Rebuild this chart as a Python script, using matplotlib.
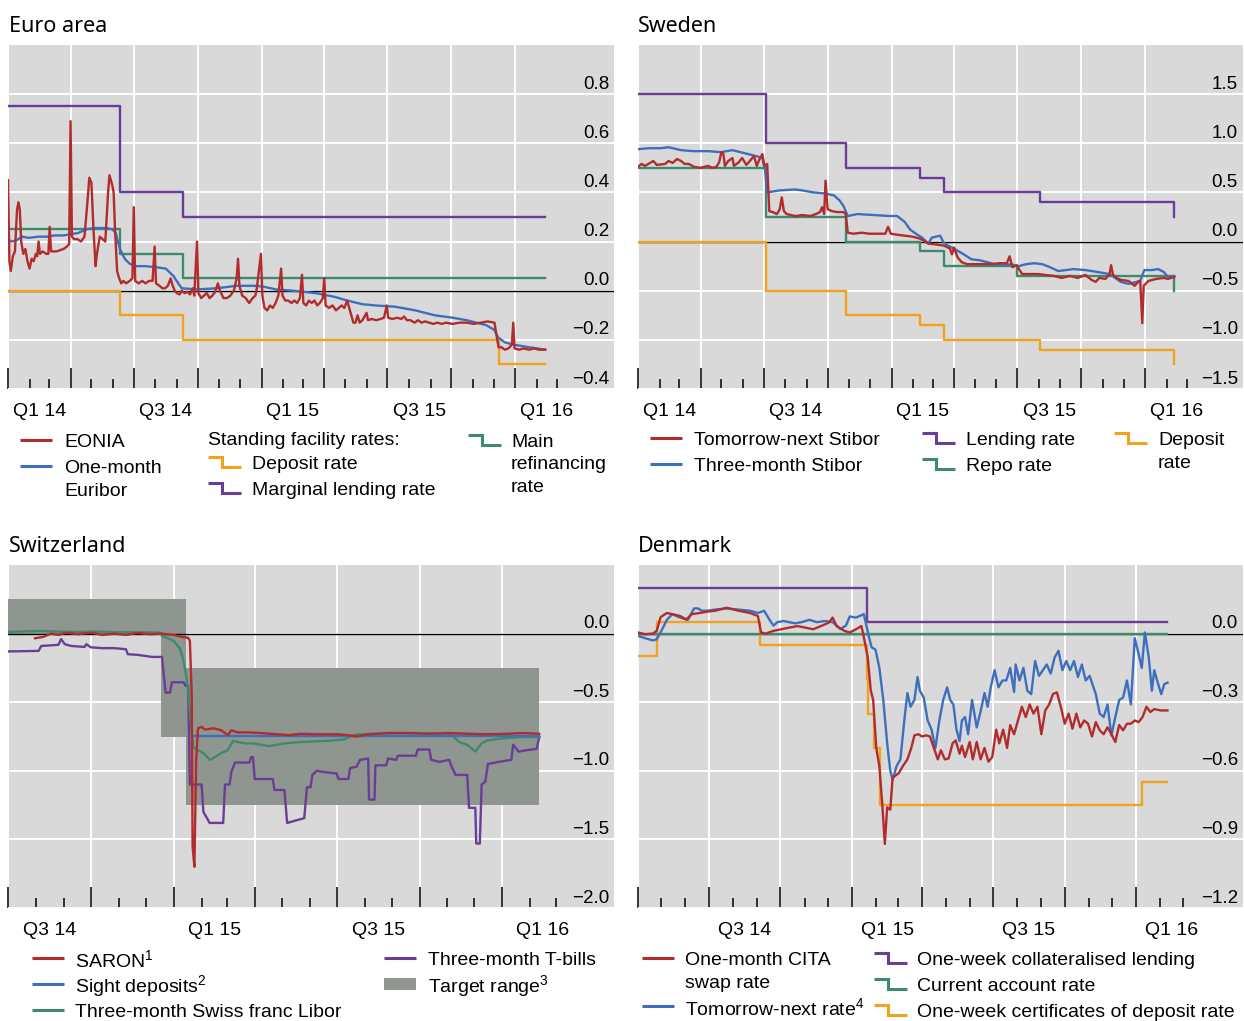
import numpy as np
import matplotlib
matplotlib.use("Agg")
import matplotlib.pyplot as plt
import matplotlib.transforms as mtrans

plt.rcParams['font.family'] = ['Liberation Sans', 'DejaVu Sans']
plt.rcParams['mathtext.fontset'] = 'custom'
plt.rcParams['mathtext.rm'] = 'Liberation Sans'
plt.rcParams['mathtext.it'] = 'Liberation Sans:italic'
plt.rcParams['mathtext.bf'] = 'Liberation Sans:bold'

# ---------------- DATA (x = days since 2014-01-01) ----------------
BASE = np.datetime64('2014-01-01')

# Euro area
euro_step_days = [0, 161, 252, 707, 773]
euro_deposit = [0.00, -0.10, -0.20, -0.30, -0.30]
euro_mro = [0.25, 0.15, 0.05, 0.05, 0.05]
euro_mlf = [0.75, 0.40, 0.30, 0.30, 0.30]
eonia = [(0, 0.45), (2, 0.12), (4, 0.08), (7, 0.14), (10, 0.16), (13, 0.33), (15, 0.36), (17, 0.33),
         (19, 0.20), (22, 0.15), (25, 0.17), (28, 0.12), (31, 0.09), (34, 0.13), (37, 0.12), (40, 0.15),
         (42, 0.14), (44, 0.20), (46, 0.15), (50, 0.16), (55, 0.15), (58, 0.15), (60, 0.26), (62, 0.16),
         (65, 0.16), (70, 0.16), (75, 0.165), (80, 0.17), (85, 0.18), (88, 0.19), (90, 0.69), (92, 0.22),
         (95, 0.21), (100, 0.21), (105, 0.20), (110, 0.22), (114, 0.35), (117, 0.46), (120, 0.44),
         (123, 0.25), (126, 0.10), (128, 0.15), (132, 0.22), (136, 0.21), (140, 0.20), (144, 0.40),
         (146, 0.47), (148, 0.45), (150, 0.43), (152, 0.40), (154, 0.25), (157, 0.08), (160, 0.05),
         (163, 0.03), (166, 0.04), (170, 0.03), (175, 0.04), (179, 0.05), (181, 0.34), (183, 0.04),
         (188, 0.03), (193, 0.04), (198, 0.03), (203, 0.04), (208, 0.04), (211, 0.18), (213, 0.03),
         (218, 0.02), (222, 0.01), (226, 0.01), (230, 0.02), (234, 0.05), (237, 0.02), (240, 0.00),
         (243, -0.01), (247, -0.015), (250, 0.00), (254, -0.01), (258, -0.005), (262, -0.015),
         (266, 0.01), (268, -0.02), (272, 0.20), (274, -0.01), (278, -0.03), (282, -0.02), (286, -0.01),
         (290, -0.03), (294, -0.02), (298, -0.005), (302, 0.03), (305, 0.0), (310, -0.03), (315, -0.03),
         (320, -0.02), (325, 0.0), (329, 0.05), (331, 0.13), (333, 0.02), (337, -0.02), (342, -0.03),
         (347, -0.05), (352, -0.03), (356, -0.02), (358, 0.01), (364, 0.15), (366, -0.02), (369, -0.07),
         (373, -0.08), (377, -0.06), (381, -0.07), (385, -0.05), (389, -0.02), (393, 0.09), (395, -0.02),
         (399, -0.04), (403, -0.04), (408, -0.05), (412, -0.04), (416, -0.05), (420, -0.03), (423, 0.065),
         (425, -0.05), (429, -0.06), (433, -0.04), (437, -0.05), (441, -0.04), (445, -0.06), (450, -0.045),
         (453, -0.03), (455, 0.05), (457, -0.06), (462, -0.07), (467, -0.06), (472, -0.08), (476, -0.07),
         (480, -0.06), (484, -0.07), (488, -0.04), (490, -0.06), (494, -0.10), (497, -0.13), (500, -0.13),
         (503, -0.10), (506, -0.13), (510, -0.12), (514, -0.10), (516, -0.09), (518, -0.12), (523, -0.115),
         (530, -0.12), (536, -0.115), (541, -0.11), (545, -0.06), (547, -0.11), (553, -0.115), (560, -0.11),
         (566, -0.115), (570, -0.105), (574, -0.12), (579, -0.12), (585, -0.13), (590, -0.12), (595, -0.13),
         (600, -0.125), (606, -0.13), (612, -0.135), (618, -0.13), (624, -0.135), (630, -0.13),
         (640, -0.135), (650, -0.13), (660, -0.13), (670, -0.135), (680, -0.13), (690, -0.125),
         (700, -0.13), (704, -0.20), (706, -0.23), (710, -0.23), (715, -0.24), (720, -0.235), (725, -0.22),
         (727, -0.13), (729, -0.235), (735, -0.24), (742, -0.235), (750, -0.24), (757, -0.235),
         (764, -0.24), (773, -0.24)]
euribor = [(0, 0.21), (5, 0.20), (12, 0.205), (20, 0.22), (30, 0.215), (44, 0.22), (56, 0.22), (67, 0.225),
           (80, 0.225), (90, 0.23), (101, 0.235), (113, 0.25), (125, 0.255), (141, 0.255), (150, 0.25),
           (155, 0.235), (161, 0.17), (168, 0.13), (175, 0.11), (185, 0.10), (198, 0.10), (215, 0.095),
           (227, 0.09), (238, 0.06), (245, 0.03), (250, 0.01), (272, 0.005), (300, 0.01), (329, 0.02),
           (358, 0.02), (370, 0.015), (386, 0.005), (410, 0.0), (443, -0.01), (470, -0.025), (488, -0.04),
           (510, -0.055), (529, -0.06), (557, -0.065), (586, -0.08), (614, -0.10), (640, -0.11),
           (660, -0.12), (688, -0.14), (700, -0.16), (705, -0.19), (715, -0.21), (728, -0.22),
           (750, -0.23), (773, -0.24)]
euro_yticks = [-0.4, -0.2, 0.0, 0.2, 0.4, 0.6, 0.8]

# Sweden
swe_lend_days = [0, 184, 299, 406, 441, 579, 772]
swe_lend = [1.50, 1.00, 0.75, 0.65, 0.50, 0.40, 0.25]
swe_repo_days = [0, 184, 299, 406, 441, 546, 772]
swe_repo = [0.75, 0.25, 0.00, -0.10, -0.25, -0.35, -0.50]
swe_dep_days = [0, 184, 299, 406, 441, 579, 772]
swe_dep = [0.00, -0.50, -0.75, -0.85, -1.00, -1.10, -1.25]
stibor_tn = [(0, 0.76), (5, 0.79), (10, 0.77), (22, 0.82), (27, 0.78), (39, 0.79), (44, 0.82), (50, 0.80),
             (56, 0.84), (62, 0.82), (67, 0.79), (73, 0.79), (81, 0.76), (90, 0.75), (101, 0.77), (107, 0.75),
             (113, 0.76), (117, 0.81), (120, 0.91), (123, 0.89), (125, 0.77), (130, 0.82), (136, 0.85),
             (138, 0.77), (144, 0.80), (150, 0.85), (156, 0.78), (161, 0.82), (167, 0.87), (171, 0.77),
             (175, 0.84), (179, 0.89), (182, 0.77), (186, 0.79), (189, 0.31), (194, 0.30), (200, 0.28),
             (204, 0.33), (207, 0.45), (210, 0.31), (214, 0.28), (226, 0.26), (237, 0.27), (248, 0.26),
             (256, 0.28), (262, 0.30), (265, 0.35), (268, 0.28), (270, 0.62), (273, 0.33), (279, 0.31),
             (287, 0.30), (296, 0.30), (299, 0.28), (302, 0.09), (310, 0.08), (322, 0.09), (333, 0.08),
             (344, 0.08), (356, 0.08), (360, 0.15), (364, 0.08), (373, 0.07), (384, 0.06), (395, 0.05),
             (406, 0.03), (418, -0.02), (429, -0.03), (440, -0.04), (449, -0.07), (452, -0.13), (455, -0.06),
             (460, -0.16), (466, -0.21), (474, -0.23), (486, -0.23), (497, -0.23), (509, -0.23), (520, -0.22),
             (531, -0.22), (535, -0.15), (539, -0.26), (545, -0.24), (553, -0.33), (565, -0.33), (576, -0.33),
             (587, -0.34), (599, -0.35), (610, -0.37), (622, -0.35), (633, -0.37), (644, -0.34), (653, -0.39),
             (659, -0.41), (664, -0.37), (673, -0.38), (679, -0.33), (681, -0.24), (684, -0.34), (689, -0.37),
             (695, -0.39), (706, -0.40), (715, -0.45), (720, -0.41), (723, -0.40), (726, -0.83), (728, -0.45),
             (735, -0.40), (746, -0.38), (757, -0.37), (763, -0.38), (772, -0.36)]
stibor_3m = [(0, 0.94), (16, 0.95), (33, 0.95), (44, 0.96), (62, 0.93), (79, 0.92), (101, 0.92), (119, 0.91),
             (136, 0.93), (153, 0.90), (170, 0.87), (179, 0.85), (183, 0.72), (186, 0.50), (203, 0.52),
             (226, 0.53), (237, 0.52), (253, 0.50), (268, 0.49), (282, 0.47), (290, 0.42), (296, 0.36),
             (302, 0.26), (316, 0.28), (339, 0.27), (362, 0.26), (373, 0.26), (384, 0.20), (392, 0.12),
             (400, 0.08), (409, 0.04), (418, -0.02), (423, 0.04), (435, 0.06), (440, -0.01), (446, -0.04),
             (457, -0.08), (469, -0.13), (480, -0.18), (492, -0.19), (503, -0.21), (514, -0.23), (526, -0.24),
             (537, -0.23), (548, -0.25), (559, -0.23), (570, -0.22), (582, -0.23), (593, -0.26), (605, -0.30),
             (616, -0.29), (627, -0.28), (644, -0.29), (662, -0.31), (679, -0.33), (695, -0.41), (706, -0.43),
             (718, -0.41), (723, -0.40), (729, -0.29), (740, -0.29), (749, -0.28), (757, -0.31), (763, -0.36),
             (772, -0.35)]
swe_yticks = [-1.5, -1.0, -0.5, 0.0, 0.5, 1.0, 1.5]

# Switzerland
target_days = [181, 351, 379, 771]
target_low = [0.00, -0.75, -1.25, -1.25]
target_high = [0.25, 0.25, -0.25, -0.25]
sight_days = [386, 771]
sight_rate = [-0.75, -0.75]
saron = [(211, -0.034), (220, -0.024), (229, 0.0), (237, -0.01), (246, 0.007), (259, -0.005), (273, 0.007),
         (286, -0.01), (299, 0.0), (312, -0.01), (325, 0.005), (339, -0.005), (352, 0.0), (365, -0.01),
         (374, -0.024), (381, -0.03), (383, -0.053), (385, -0.44), (386, -1.55), (388, -1.70), (390, -0.92),
         (392, -0.69), (396, -0.68), (400, -0.70), (409, -0.69), (418, -0.705), (425, -0.74), (429, -0.705),
         (436, -0.72), (449, -0.72), (462, -0.725), (480, -0.734), (493, -0.74), (506, -0.73), (524, -0.734),
         (546, -0.734), (559, -0.74), (568, -0.75), (581, -0.734), (603, -0.725), (625, -0.725), (647, -0.73),
         (669, -0.725), (691, -0.73), (713, -0.734), (735, -0.73), (753, -0.725), (771, -0.73)]
chf_libor = [(181, 0.012), (215, 0.02), (237, 0.015), (259, 0.012), (281, 0.015), (303, 0.01), (325, 0.01),
             (350, 0.007), (352, -0.017), (365, -0.053), (372, -0.11), (376, -0.20), (378, -0.27), (381, -0.415),
             (383, -0.56), (385, -0.73), (387, -0.83), (392, -0.85), (398, -0.87), (405, -0.92), (411, -0.90),
             (418, -0.87), (425, -0.85), (431, -0.78), (436, -0.79), (444, -0.80), (453, -0.80), (462, -0.81),
             (471, -0.82), (480, -0.81), (488, -0.80), (506, -0.79), (524, -0.785), (541, -0.78), (555, -0.77),
             (561, -0.75), (568, -0.734), (590, -0.73), (612, -0.725), (638, -0.725), (656, -0.73), (673, -0.734),
             (682, -0.79), (691, -0.81), (700, -0.86), (707, -0.80), (713, -0.78), (722, -0.77), (735, -0.76),
             (753, -0.754), (771, -0.754)]
tbills = [(181, -0.13), (215, -0.126), (218, -0.09), (237, -0.082), (240, -0.04), (244, -0.077), (251, -0.09),
          (266, -0.097), (268, -0.077), (273, -0.10), (286, -0.106), (299, -0.106), (312, -0.114), (314, -0.15),
          (325, -0.155), (341, -0.17), (352, -0.17), (356, -0.43), (361, -0.43), (363, -0.355), (376, -0.355),
          (378, -0.38), (381, -0.38), (383, -1.10), (396, -1.10), (398, -1.30), (405, -1.38), (420, -1.38),
          (422, -1.10), (427, -1.10), (429, -1.01), (433, -0.94), (449, -0.94), (451, -0.90), (453, -0.90),
          (455, -1.06), (475, -1.06), (477, -1.14), (488, -1.14), (491, -1.38), (510, -1.345), (513, -1.12),
          (517, -1.12), (519, -1.03), (524, -1.0), (533, -1.01), (546, -1.02), (548, -1.06), (559, -1.06),
          (561, -0.98), (568, -0.97), (572, -0.92), (581, -0.91), (582, -1.21), (588, -1.21), (589, -0.96),
          (601, -0.96), (603, -0.91), (612, -0.92), (614, -0.89), (634, -0.89), (636, -0.845), (649, -0.845),
          (651, -0.92), (660, -0.935), (671, -0.92), (673, -0.96), (678, -1.03), (691, -1.03), (693, -1.27),
          (700, -1.27), (701, -1.53), (705, -1.53), (707, -1.10), (711, -1.08), (714, -0.95), (726, -0.935),
          (740, -0.92), (742, -0.81), (748, -0.86), (757, -0.85), (768, -0.84), (771, -0.754)]
che_yticks = [-2.0, -1.5, -1.0, -0.5, 0.0]

# Denmark
dk_lend_days = [90, 384, 770]
dk_lend = [0.20, 0.05, 0.05]
dk_cur_days = [90, 770]
dk_cur = [0.0, 0.0]
dk_cd_days = [90, 114, 247, 384, 386, 393, 401, 737, 770]
dk_cd = [-0.10, 0.05, -0.05, -0.20, -0.35, -0.50, -0.75, -0.65, -0.65]
dk_tn = [(90, -0.01), (99, -0.02), (109, -0.03), (114, -0.025), (119, 0.005), (127, 0.06), (134, 0.085),
         (144, 0.07), (154, 0.06), (162, 0.11), (167, 0.11), (172, 0.10), (179, 0.10), (189, 0.105), (204, 0.11),
         (219, 0.105), (234, 0.10), (244, 0.09), (252, 0.10), (259, 0.06), (264, 0.035), (269, 0.05),
         (277, 0.055), (284, 0.05), (292, 0.045), (300, 0.05), (310, 0.06), (320, 0.05), (330, 0.055),
         (340, 0.05), (350, 0.02), (357, 0.035), (362, 0.075), (370, 0.07), (380, 0.085), (384, 0.025),
         (387, -0.02), (390, -0.06), (395, -0.07), (400, -0.15), (405, -0.29), (410, -0.48), (414, -0.60),
         (417, -0.64), (422, -0.58), (427, -0.55), (432, -0.38), (436, -0.26), (440, -0.32), (445, -0.29),
         (449, -0.19), (452, -0.25), (457, -0.28), (462, -0.38), (467, -0.42), (472, -0.50), (477, -0.38),
         (482, -0.29), (487, -0.235), (491, -0.29), (495, -0.31), (499, -0.42), (503, -0.47), (506, -0.38),
         (510, -0.365), (514, -0.44), (519, -0.29), (525, -0.41), (530, -0.34), (535, -0.26), (539, -0.32),
         (543, -0.235), (548, -0.16), (553, -0.235), (558, -0.205), (563, -0.205), (568, -0.15), (573, -0.255),
         (575, -0.135), (580, -0.205), (585, -0.15), (590, -0.25), (595, -0.265), (600, -0.12), (605, -0.185),
         (610, -0.16), (615, -0.135), (620, -0.175), (625, -0.105), (630, -0.075), (635, -0.16), (640, -0.12),
         (645, -0.16), (650, -0.12), (655, -0.19), (660, -0.135), (665, -0.205), (670, -0.185), (678, -0.265),
         (683, -0.35), (688, -0.365), (693, -0.31), (698, -0.445), (703, -0.365), (708, -0.29), (713, -0.28),
         (718, -0.205), (723, -0.31), (728, -0.02), (733, -0.09), (737, -0.15), (741, 0.005), (746, -0.105),
         (750, -0.25), (753, -0.16), (758, -0.22), (762, -0.265), (766, -0.22), (770, -0.215)]
dk_cita = [(90, 0.005), (99, -0.003), (109, 0.0), (114, 0.012), (119, 0.072), (127, 0.09), (134, 0.085),
           (144, 0.077), (152, 0.062), (159, 0.085), (169, 0.09), (179, 0.096), (189, 0.10), (204, 0.113),
           (219, 0.10), (234, 0.09), (244, 0.077), (248, 0.005), (254, 0.0), (264, 0.012), (274, 0.019),
           (284, 0.026), (295, 0.033), (305, 0.026), (315, 0.019), (325, 0.033), (335, 0.048), (340, 0.07),
           (345, 0.033), (355, 0.012), (362, 0.005), (370, 0.019), (377, 0.033), (381, -0.032), (385, -0.104),
           (389, -0.25), (392, -0.29), (396, -0.50), (400, -0.58), (404, -0.76), (407, -0.92), (410, -0.76),
           (414, -0.77), (417, -0.63), (425, -0.61), (430, -0.58), (436, -0.55), (441, -0.50), (445, -0.445),
           (450, -0.44), (455, -0.45), (460, -0.445), (465, -0.45), (470, -0.50), (475, -0.55), (479, -0.51),
           (484, -0.55), (489, -0.546), (494, -0.48), (498, -0.467), (503, -0.525), (506, -0.49), (510, -0.54),
           (516, -0.474), (520, -0.55), (525, -0.474), (530, -0.55), (535, -0.50), (540, -0.56), (545, -0.54),
           (550, -0.42), (554, -0.48), (559, -0.42), (564, -0.50), (568, -0.40), (573, -0.44), (578, -0.38),
           (583, -0.32), (588, -0.365), (593, -0.31), (598, -0.35), (603, -0.32), (608, -0.44), (613, -0.336),
           (618, -0.31), (623, -0.264), (628, -0.257), (633, -0.32), (638, -0.394), (643, -0.35), (648, -0.416),
           (653, -0.35), (658, -0.41), (663, -0.38), (668, -0.394), (673, -0.45), (678, -0.387), (683, -0.423),
           (688, -0.44), (693, -0.41), (698, -0.44), (703, -0.474), (708, -0.40), (713, -0.423), (718, -0.394),
           (723, -0.394), (728, -0.38), (733, -0.387), (738, -0.365), (743, -0.32), (748, -0.343), (753, -0.33),
           (761, -0.336), (770, -0.336)]
dk_yticks = [-1.2, -0.9, -0.6, -0.3, 0.0]

quarter_labels_full = ['Q1 14', 'Q3 14', 'Q1 15', 'Q3 15', 'Q1 16']
quarter_label_days_full = [45, 227, 410, 592, 775]
quarter_labels_short = ['Q3 14', 'Q1 15', 'Q3 15', 'Q1 16']
quarter_label_days_short = [227, 410, 592, 775]

# ---------------- STYLE ----------------
RED = '#b22b2d'
BLUE = '#3d6fbe'
GREEN = '#3e8a6c'
PURPLE = '#6a3d96'
ORANGE = '#f0a31f'
TARGET = '#8f968f'
BG = '#d9d9d9'
LW = 1.7

W, H = 1244, 1021
fig = plt.figure(figsize=(W / 100, H / 100), dpi=100)
fig.patch.set_facecolor('white')


def to_dates(days):
    return BASE + np.asarray(days, dtype='int64').astype('timedelta64[D]')


def pairs(series):
    d, v = zip(*series)
    return to_dates(d), np.array(v)


def rect(x0, y0, x1, y1):
    return [x0 / W, 1 - y1 / H, (x1 - x0) / W, (y1 - y0) / H]


def setup(ax, xstart, xend, ylim, yticks, lab_days, labels, title, title_x, title_y):
    ax.set_facecolor(BG)
    for s in ax.spines.values():
        s.set_visible(False)
    ax.set_xlim(to_dates([xstart])[0], to_dates([xend])[0])
    ax.set_ylim(*ylim)
    months = np.arange('2014-01', '2016-04', dtype='datetime64[M]').astype('datetime64[D]')
    months = months[months >= to_dates([xstart])[0]]
    mnum = (months.astype('datetime64[M]').astype(int) % 12)
    quarters = months[(mnum % 3 == 0) & (months <= np.datetime64('2016-01-01'))]
    ax.set_xticks(quarters)
    ax.set_xticks(months, minor=True)
    ax.tick_params(axis='x', which='major', direction='in', length=15, width=1.1, color='black',
                   labelbottom=False)
    ax.tick_params(axis='x', which='minor', direction='in', length=7, width=1.1, color='black',
                   labelbottom=False)
    ax.set_yticks(yticks)
    ax.tick_params(axis='y', length=0, labelleft=False, labelright=False)
    ax.set_axisbelow(True)
    ax.grid(True, which='major', color='white', lw=1.4)
    ax.axhline(0, color='black', lw=1.0, zorder=1.2)
    ytr = mtrans.offset_copy(ax.get_yaxis_transform(), fig=fig, x=-5, y=10, units='dots')
    for v in yticks:
        s = f'{v:.1f}'.replace('-', '\u2212')
        if s == '\u22120.0':
            s = '0.0'
        ax.text(1.0, v, s, transform=ytr, ha='right', va='center', fontsize=13.5, color='black')
    xtr = mtrans.offset_copy(ax.get_xaxis_transform(), fig=fig, x=0, y=-22, units='dots')
    for d, s in zip(lab_days, labels):
        ax.text(to_dates([d])[0], 0, s, transform=xtr, ha='center', va='center', fontsize=14)
    fig.text(title_x / W, 1 - title_y / H, title, fontsize=15.5, family=['Noto Sans', 'DejaVu Sans'],
             ha='left', va='center')


# ---------------- EURO AREA ----------------
ax = fig.add_axes(rect(8, 45, 614, 389))
setup(ax, 0, 872, (-0.4, 1.0), euro_yticks, quarter_label_days_full, quarter_labels_full,
      'Euro area', 9, 27)
sd = to_dates(euro_step_days)
ax.step(sd, euro_mlf, where='post', color=PURPLE, lw=LW, zorder=2)
ax.step(sd, euro_mro, where='post', color=GREEN, lw=LW, zorder=2)
ax.step(sd, euro_deposit, where='post', color=ORANGE, lw=LW, zorder=2)
x, y = pairs(euribor)
ax.plot(x, y, color=BLUE, lw=LW, zorder=3)
x, y = pairs(eonia)
ax.plot(x, y, color=RED, lw=LW, zorder=4)

# ---------------- SWEDEN ----------------
ax = fig.add_axes(rect(638, 45, 1243, 389))
setup(ax, 0, 871, (-1.5, 2.0), swe_yticks, quarter_label_days_full, quarter_labels_full,
      'Sweden', 638, 27)
ax.step(to_dates(swe_lend_days), swe_lend, where='post', color=PURPLE, lw=LW, zorder=2)
ax.step(to_dates(swe_repo_days), swe_repo, where='post', color=GREEN, lw=LW, zorder=2)
ax.step(to_dates(swe_dep_days), swe_dep, where='post', color=ORANGE, lw=LW, zorder=2)
x, y = pairs(stibor_3m)
ax.plot(x, y, color=BLUE, lw=LW, zorder=3)
x, y = pairs(stibor_tn)
ax.plot(x, y, color=RED, lw=LW, zorder=4)

# ---------------- SWITZERLAND ----------------
ax = fig.add_axes(rect(8, 565, 614, 908))
setup(ax, 181, 854, (-2.0, 0.5), che_yticks, quarter_label_days_short, quarter_labels_short,
      'Switzerland', 9, 547)
ax.fill_between(to_dates(target_days), target_low, target_high, step='post', color=TARGET,
                lw=0, zorder=0.9)
x, y = pairs(tbills)
ax.plot(x, y, color=PURPLE, lw=LW, zorder=2)
x, y = pairs(chf_libor)
ax.plot(x, y, color=GREEN, lw=LW, zorder=2.5)
ax.plot(to_dates(sight_days), sight_rate, color=BLUE, lw=LW, zorder=3)
x, y = pairs(saron)
ax.plot(x, y, color=RED, lw=LW, zorder=4)

# ---------------- DENMARK ----------------
ax = fig.add_axes(rect(638, 565, 1243, 908))
setup(ax, 90, 867, (-1.2, 0.3), dk_yticks, quarter_label_days_short, quarter_labels_short,
      'Denmark', 638, 547)
ax.step(to_dates(dk_lend_days), dk_lend, where='post', color=PURPLE, lw=LW, zorder=2)
ax.step(to_dates(dk_cd_days), dk_cd, where='post', color=ORANGE, lw=LW, zorder=2)
ax.step(to_dates(dk_cur_days), dk_cur, where='post', color=GREEN, lw=LW, zorder=2.2)
x, y = pairs(dk_tn)
ax.plot(x, y, color=BLUE, lw=LW, zorder=3)
x, y = pairs(dk_cita)
ax.plot(x, y, color=RED, lw=LW, zorder=4)

# ---------------- LEGENDS (pixel layout overlay) ----------------
lax = fig.add_axes([0, 0, 1, 1])
lax.set_xlim(0, W)
lax.set_ylim(H, 0)
lax.axis('off')
FS = 14


def line_icon(x, y, c):
    lax.plot([x, x + 32], [y, y], color=c, lw=2.2, solid_capstyle='butt')


def step_icon(x, y, c):
    lax.plot([x, x + 14, x + 14, x + 33], [y - 5, y - 5, y + 5, y + 5], color=c, lw=2.2,
             solid_capstyle='butt', solid_joinstyle='miter')


def txt(x, y, s):
    lax.text(x, y + 2, s, fontsize=FS, ha='left', va='center')


# Euro
line_icon(20, 440, RED); txt(64, 440, 'EONIA')
line_icon(20, 466, BLUE); txt(64, 466, 'One-month'); txt(64, 489, 'Euribor')
txt(208, 438, 'Standing facility rates:')
step_icon(208, 462, ORANGE); txt(252, 462, 'Deposit rate')
step_icon(208, 488, PURPLE); txt(252, 488, 'Marginal lending rate')
step_icon(468, 440, GREEN); txt(511, 440, 'Main'); txt(511, 462, 'refinancing'); txt(511, 485, 'rate')

# Sweden
line_icon(650, 438, RED); txt(694, 438, 'Tomorrow-next Stibor')
line_icon(650, 464, BLUE); txt(694, 464, 'Three-month Stibor')
step_icon(922, 438, PURPLE); txt(966, 438, 'Lending rate')
step_icon(922, 464, GREEN); txt(966, 464, 'Repo rate')
step_icon(1114, 438, ORANGE); txt(1158, 438, 'Deposit'); txt(1158, 461, 'rate')

# Switzerland
line_icon(32, 958, RED); txt(75, 958, r'SARON$^{\mathrm{1}}$')
line_icon(32, 984, BLUE); txt(75, 984, r'Sight deposits$^{\mathrm{2}}$')
line_icon(32, 1010, GREEN); txt(75, 1010, 'Three-month Swiss franc Libor')
line_icon(384, 958, PURPLE); txt(428, 958, 'Three-month T-bills')
lax.fill_between([384, 416], [978, 978], [990, 990], color=TARGET, lw=0)
txt(428, 984, r'Target range$^{\mathrm{3}}$')

# Denmark
line_icon(642, 958, RED); txt(685, 958, 'One-month CITA'); txt(685, 981, 'swap rate')
line_icon(642, 1006, BLUE); txt(685, 1006, r'Tomorrow-next rate$^{\mathrm{4}}$')
step_icon(874, 958, PURPLE); txt(917, 958, 'One-week collateralised lending')
step_icon(874, 984, GREEN); txt(917, 984, 'Current account rate')
step_icon(874, 1010, ORANGE); txt(917, 1010, 'One-week certificates of deposit rate')

fig.savefig('out.png', dpi=100, facecolor='white')
